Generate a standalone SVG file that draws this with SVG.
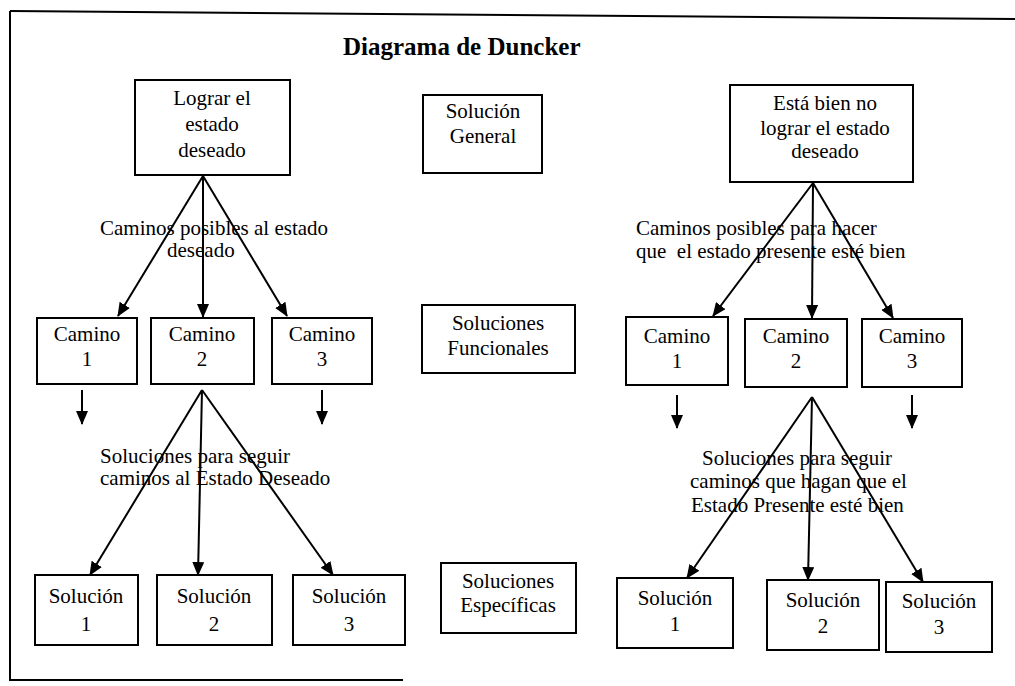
<svg xmlns="http://www.w3.org/2000/svg" width="1015" height="686" viewBox="0 0 1015 686">
  <defs>
    <marker id="arrow" viewBox="0 0 14 12" refX="13" refY="6" markerWidth="14" markerHeight="12" markerUnits="userSpaceOnUse" orient="auto">
      <path d="M0,0 L14,6 L0,12 Z" fill="#000"/>
    </marker>
    <style>
      .box { fill: #fff; stroke: #000; stroke-width: 2; }
      .t { font-family: "Liberation Serif", "Times New Roman", serif; font-size: 21px; fill: #000; text-anchor: middle; }
      .lbl { font-family: "Liberation Serif", "Times New Roman", serif; font-size: 21px; fill: #000; white-space: pre; }
      .title { font-family: "Liberation Serif", "Times New Roman", serif; font-size: 25px; font-weight: bold; fill: #000; }
      .edge { stroke: #000; stroke-width: 2; fill: none; }
      .frame { stroke: #000; stroke-width: 2; fill: none; }
    </style>
  </defs>
  <rect width="1015" height="686" fill="#fff"/>

  <!-- page frame -->
  <g id="frame">
    <line class="frame" x1="10" y1="11" x2="1015" y2="19"/>
    <line class="frame" x1="10" y1="11" x2="10" y2="681"/>
    <line class="frame" x1="10" y1="680" x2="403" y2="680"/>
  </g>

  <text class="title" x="343" y="55">Diagrama de Duncker</text>

  <!-- connectors -->
  <g id="connectors">
    <!-- left tree -->
    <line class="edge" x1="203" y1="176" x2="118" y2="316" marker-end="url(#arrow)"/>
    <line class="edge" x1="203" y1="176" x2="203" y2="317" marker-end="url(#arrow)"/>
    <line class="edge" x1="203" y1="176" x2="287" y2="316" marker-end="url(#arrow)"/>
    <line class="edge" x1="82" y1="390" x2="82" y2="424" marker-end="url(#arrow)"/>
    <line class="edge" x1="322" y1="390" x2="322" y2="424" marker-end="url(#arrow)"/>
    <line class="edge" x1="202" y1="390" x2="90" y2="575" marker-end="url(#arrow)"/>
    <line class="edge" x1="202" y1="390" x2="198" y2="575" marker-end="url(#arrow)"/>
    <line class="edge" x1="202" y1="390" x2="333" y2="575" marker-end="url(#arrow)"/>
    <!-- right tree -->
    <line class="edge" x1="813" y1="183" x2="713" y2="316" marker-end="url(#arrow)"/>
    <line class="edge" x1="813" y1="183" x2="812" y2="318" marker-end="url(#arrow)"/>
    <line class="edge" x1="813" y1="183" x2="893" y2="318" marker-end="url(#arrow)"/>
    <line class="edge" x1="677" y1="395" x2="677" y2="428" marker-end="url(#arrow)"/>
    <line class="edge" x1="912" y1="395" x2="912" y2="428" marker-end="url(#arrow)"/>
    <line class="edge" x1="812" y1="397" x2="687" y2="578" marker-end="url(#arrow)"/>
    <line class="edge" x1="812" y1="397" x2="808" y2="580" marker-end="url(#arrow)"/>
    <line class="edge" x1="812" y1="397" x2="923" y2="582" marker-end="url(#arrow)"/>
  </g>

  <!-- connector labels -->
  <g id="labels">
    <text class="lbl" x="100" y="235">Caminos posibles al estado</text>
    <text class="lbl" x="167" y="257">deseado</text>
    <text class="lbl" x="100" y="463">Soluciones para seguir</text>
    <text class="lbl" x="100" y="485">caminos al Estado Deseado</text>
    <text class="lbl" x="636" y="235">Caminos posibles para hacer</text>
    <text class="lbl" x="636" y="258">que  el estado presente esté bien</text>
    <text class="lbl" x="702" y="465">Soluciones para seguir</text>
    <text class="lbl" x="690" y="488">caminos que hagan que el</text>
    <text class="lbl" x="691" y="512">Estado Presente esté bien</text>
  </g>

  <!-- left tree nodes -->
  <g id="lograr">
    <rect class="box" x="135" y="80" width="155" height="95"/>
    <text class="t" x="212" y="105">Lograr el</text>
    <text class="t" x="212" y="131">estado</text>
    <text class="t" x="212" y="157">deseado</text>
  </g>
  <g id="camino-l1">
    <rect class="box" x="37" y="318" width="100" height="66"/>
    <text class="t" x="87" y="341">Camino</text>
    <text class="t" x="87" y="366">1</text>
  </g>
  <g id="camino-l2">
    <rect class="box" x="151" y="318" width="103" height="66"/>
    <text class="t" x="202" y="341">Camino</text>
    <text class="t" x="202" y="366">2</text>
  </g>
  <g id="camino-l3">
    <rect class="box" x="272" y="318" width="100" height="66"/>
    <text class="t" x="322" y="341">Camino</text>
    <text class="t" x="322" y="366">3</text>
  </g>
  <g id="solucion-l1">
    <rect class="box" x="35" y="575" width="103" height="70"/>
    <text class="t" x="86" y="603">Solución</text>
    <text class="t" x="86" y="631">1</text>
  </g>
  <g id="solucion-l2">
    <rect class="box" x="157" y="575" width="115" height="70"/>
    <text class="t" x="214" y="603">Solución</text>
    <text class="t" x="214" y="631">2</text>
  </g>
  <g id="solucion-l3">
    <rect class="box" x="293" y="575" width="112" height="70"/>
    <text class="t" x="349" y="603">Solución</text>
    <text class="t" x="349" y="631">3</text>
  </g>

  <!-- level legend -->
  <g id="solucion-general">
    <rect class="box" x="423" y="95" width="119" height="78"/>
    <text class="t" x="483" y="118">Solución</text>
    <text class="t" x="483" y="143">General</text>
  </g>
  <g id="soluciones-funcionales">
    <rect class="box" x="422" y="305" width="153" height="68"/>
    <text class="t" x="498" y="330">Soluciones</text>
    <text class="t" x="498" y="355">Funcionales</text>
  </g>
  <g id="soluciones-especificas">
    <rect class="box" x="441" y="563" width="135" height="70"/>
    <text class="t" x="508" y="588">Soluciones</text>
    <text class="t" x="508" y="612">Específicas</text>
  </g>

  <!-- right tree nodes -->
  <g id="esta-bien">
    <rect class="box" x="730" y="85" width="183" height="97"/>
    <text class="t" x="825" y="110">Está bien no</text>
    <text class="t" x="825" y="135">lograr el estado</text>
    <text class="t" x="825" y="158">deseado</text>
  </g>
  <g id="camino-r1">
    <rect class="box" x="626" y="317" width="102" height="68"/>
    <text class="t" x="677" y="343">Camino</text>
    <text class="t" x="677" y="368">1</text>
  </g>
  <g id="camino-r2">
    <rect class="box" x="745" y="319" width="102" height="68"/>
    <text class="t" x="796" y="343">Camino</text>
    <text class="t" x="796" y="368">2</text>
  </g>
  <g id="camino-r3">
    <rect class="box" x="862" y="319" width="100" height="68"/>
    <text class="t" x="912" y="343">Camino</text>
    <text class="t" x="912" y="368">3</text>
  </g>
  <g id="solucion-r1">
    <rect class="box" x="617" y="578" width="116" height="70"/>
    <text class="t" x="675" y="605">Solución</text>
    <text class="t" x="675" y="631">1</text>
  </g>
  <g id="solucion-r2">
    <rect class="box" x="767" y="580" width="112" height="70"/>
    <text class="t" x="823" y="607">Solución</text>
    <text class="t" x="823" y="633">2</text>
  </g>
  <g id="solucion-r3">
    <rect class="box" x="886" y="582" width="106" height="70"/>
    <text class="t" x="939" y="608">Solución</text>
    <text class="t" x="939" y="634">3</text>
  </g>
</svg>
